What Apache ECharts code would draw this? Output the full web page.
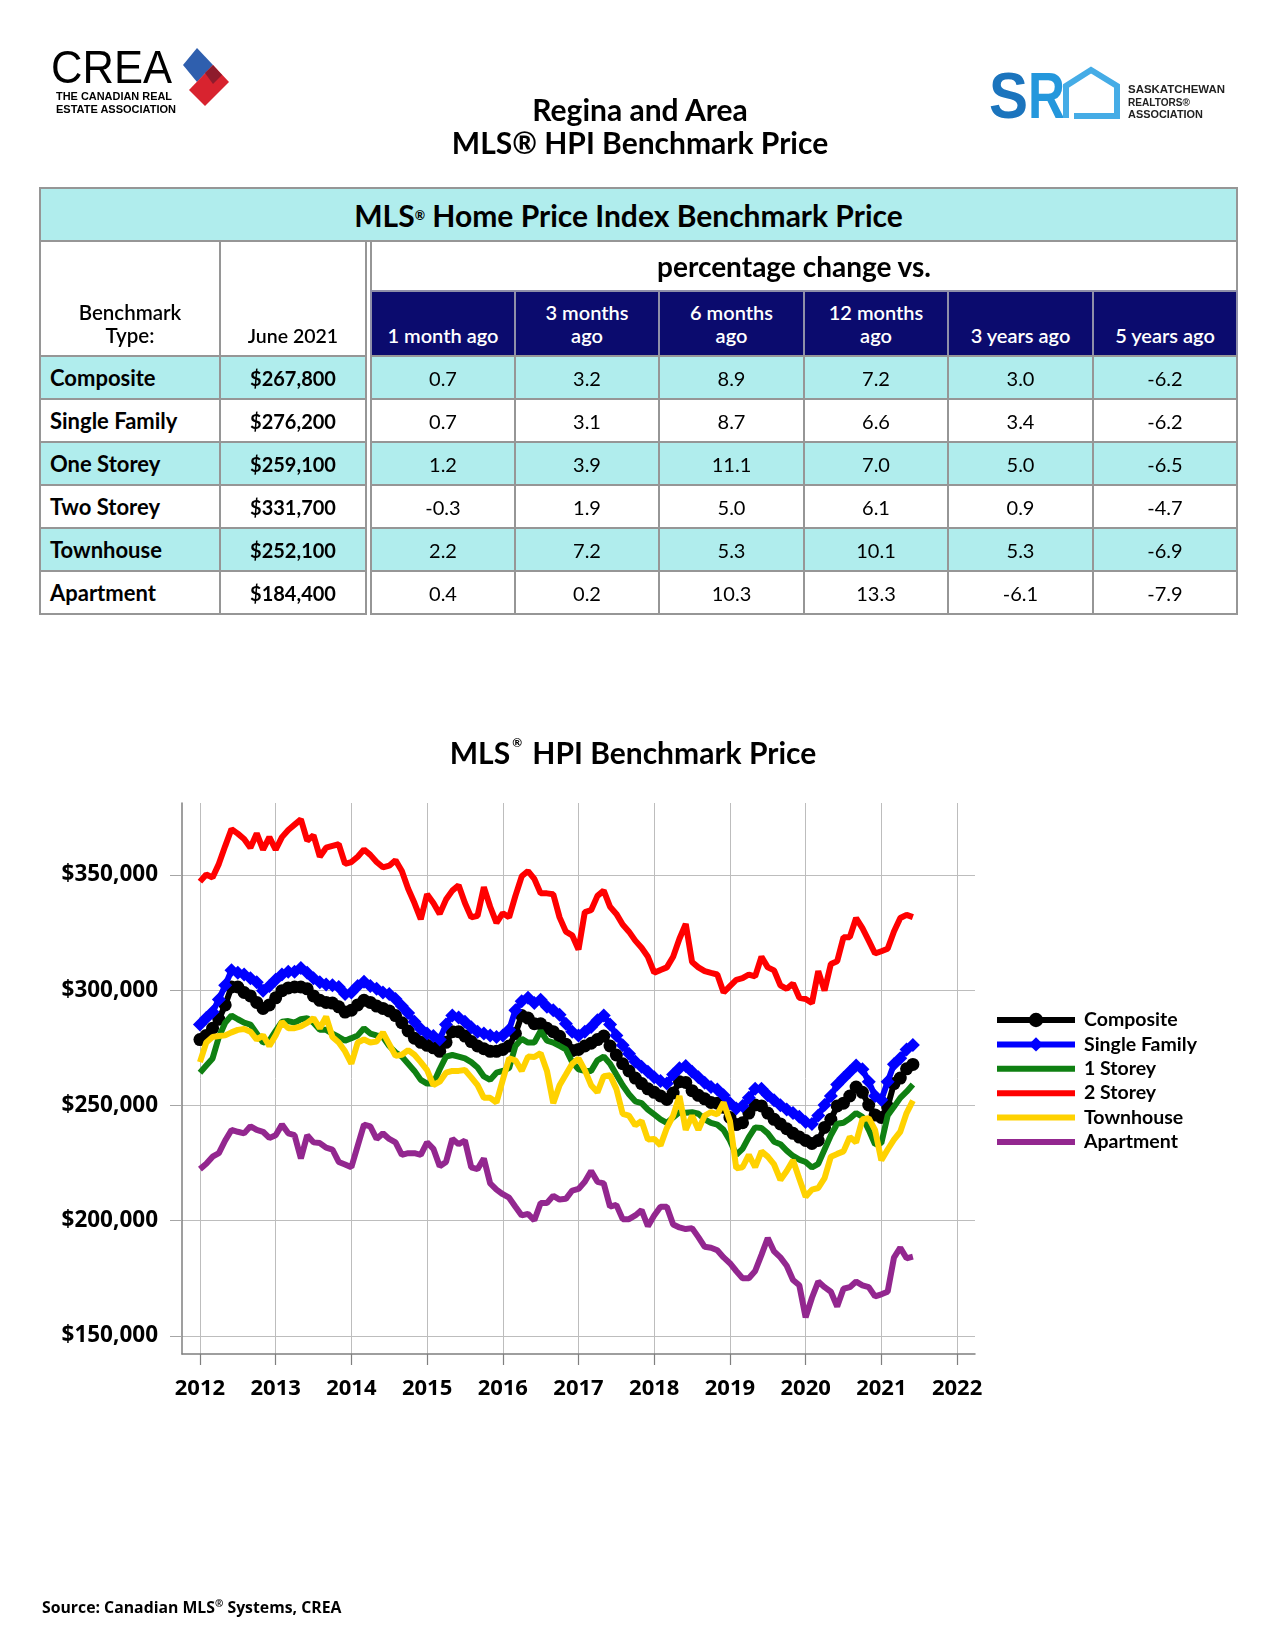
<!DOCTYPE html>
<html>
<head>
<meta charset="utf-8">
<title>Regina and Area MLS HPI Benchmark Price</title>
<script src="https://cdn.jsdelivr.net/npm/echarts@6.0.0/dist/echarts.min.js"></script>
<style>
html,body{margin:0;padding:0;background:#fff;}
body{position:relative;width:1275px;height:1650px;overflow:hidden;font-family:Lato,'Open Sans',sans-serif;color:#000;}
#chart{position:absolute;left:0;top:0;width:1275px;height:1650px;z-index:0;}
.layer{position:absolute;z-index:2;}
.title{position:absolute;z-index:2;left:340px;width:600px;text-align:center;font-weight:700;font-size:30px;line-height:34px;}
.cell{position:absolute;box-sizing:border-box;border:2px solid #969696;display:flex;align-items:center;justify-content:center;text-align:center;z-index:2;font-size:20px;}
sup.r{font-size:0.42em;vertical-align:top;position:relative;top:0.1em;}
</style>
</head>
<body>
<div id="chart"></div>

<svg class="layer" style="left:0;top:0" width="1275" height="140" xmlns="http://www.w3.org/2000/svg">
  <!-- CREA logo -->
  <text x="51" y="83" font-family="Liberation Sans, Arial, sans-serif" font-size="46" textLength="121" lengthAdjust="spacingAndGlyphs" fill="#000">CREA</text>
  <text x="56" y="100" font-family="Liberation Sans, Arial, sans-serif" font-size="10" font-weight="bold" textLength="116" lengthAdjust="spacingAndGlyphs" fill="#000">THE CANADIAN REAL</text>
  <text x="56" y="113" font-family="Liberation Sans, Arial, sans-serif" font-size="10" font-weight="bold" textLength="120" lengthAdjust="spacingAndGlyphs" fill="#000">ESTATE ASSOCIATION</text>
  <polygon points="197,48 213,65 197,82 183,65" fill="#2f5fae"/>
  <polygon points="213,65 229,82 205,106 189,90" fill="#d8232f"/>
  <polygon points="205,73 213,65 222,75 213,84" fill="#8e1b2c"/>
  <!-- SRA logo -->
  <text x="989" y="118" font-family="Liberation Sans, Arial, sans-serif" font-size="64" font-weight="bold" fill="#1b74bd" textLength="39" lengthAdjust="spacingAndGlyphs">S</text>
  <text x="1028" y="118" font-family="Liberation Sans, Arial, sans-serif" font-size="64" font-weight="bold" fill="#2497dc" textLength="37" lengthAdjust="spacingAndGlyphs">R</text>
  <polyline points="1066,118 1066,86 1091,70 1117,86 1117,116 1074,116" fill="none" stroke="#45ace6" stroke-width="6"/>
  <text x="1128" y="93" font-family="Liberation Sans, Arial, sans-serif" font-size="10.5" font-weight="bold" fill="#222" textLength="97" lengthAdjust="spacingAndGlyphs">SASKATCHEWAN</text>
  <text x="1128" y="106" font-family="Liberation Sans, Arial, sans-serif" font-size="10.5" font-weight="bold" fill="#222" textLength="62" lengthAdjust="spacingAndGlyphs">REALTORS®</text>
  <text x="1128" y="118" font-family="Liberation Sans, Arial, sans-serif" font-size="10.5" font-weight="bold" fill="#222" textLength="75" lengthAdjust="spacingAndGlyphs">ASSOCIATION</text>
</svg>

<div class="title" style="top:92px">Regina and Area</div>
<div class="title" style="top:125px">MLS® HPI Benchmark Price</div>

<div class="layer" style="left:42px;top:1592px;font-family:'Open Sans',sans-serif;font-weight:700;font-size:15.8px;line-height:22px;">Source: Canadian MLS<sup style="font-size:10px;">®</sup> Systems, CREA</div>

<script>
// ---------------- table data ----------------
const benchmarkTypes = ['Composite', 'Single Family', 'One Storey', 'Two Storey', 'Townhouse', 'Apartment'];
const june2021Prices = [267800, 276200, 259100, 331700, 252100, 184400];
const changeHeaders = ['1 month ago', '3 months<br>ago', '6 months<br>ago', '12 months<br>ago', '3 years ago', '5 years ago'];
const pct1Month = [0.7, 0.7, 1.2, -0.3, 2.2, 0.4];
const pct3Months = [3.2, 3.1, 3.9, 1.9, 7.2, 0.2];
const pct6Months = [8.9, 8.7, 11.1, 5.0, 5.3, 10.3];
const pct12Months = [7.2, 6.6, 7.0, 6.1, 10.1, 13.3];
const pct3Years = [3.0, 3.4, 5.0, 0.9, 5.3, -6.1];
const pct5Years = [-6.2, -6.2, -6.5, -4.7, -6.9, -7.9];

// ---------------- chart data (monthly, Jan 2012 - Jun 2021) ----------------
const startYear = 2012;
const yearTicks = [2012, 2013, 2014, 2015, 2016, 2017, 2018, 2019, 2020, 2021, 2022];
const priceTicks = [150000, 200000, 250000, 300000, 350000];
const seriesNames = ['Composite', 'Single Family', '1 Storey', '2 Storey', 'Townhouse', 'Apartment'];

const composite = [
  278600, 280400, 283500, 287400, 293600, 301400, 301400, 299000, 297500, 294700, 292100, 293600,
  296700, 299800, 301000, 301400, 301400, 300600, 297500, 295600, 294700, 294400, 292800, 290500,
  291300, 293600, 295600, 294700, 293100, 292100, 291000, 289000, 285900, 282300, 279200, 277400,
  276100, 275000, 273500, 277400, 282000, 282000, 280100, 277700, 275800, 274600, 273500, 273500,
  274300, 275800, 281200, 289000, 287900, 285500, 285400, 283500, 282000, 280000, 276600, 273800,
  274300, 275800, 277000, 278600, 280100, 275800, 271900, 268100, 265000, 261900, 259500, 257200,
  255700, 254100, 252600, 255400, 260300, 260000, 256400, 254400, 252900, 251300, 251000, 249200,
  244800, 241700, 242500, 246700, 250200, 249800, 246700, 244000, 242000, 239900, 237900, 236300,
  234800, 233500, 234800, 240500, 244000, 249800, 251000, 254100, 258000, 255700, 250200, 245900,
  244800, 249500, 259500, 261900, 265900, 267800
];
const singleFamily = [
  285100, 287900, 290500, 296000, 302100, 308600, 307600, 306800, 305200, 303400, 299800, 301800,
  304500, 306800, 308000, 308000, 309600, 307600, 305200, 303400, 302500, 302100, 301400, 298300,
  299000, 301800, 303700, 301800, 300600, 299000, 298300, 296200, 293100, 290100, 286300, 283200,
  281200, 280100, 278600, 285100, 289000, 288200, 286300, 283900, 282000, 281200, 280400, 279700,
  280400, 282800, 291300, 295200, 296700, 294500, 295900, 292800, 291300, 289300, 285400, 282000,
  280400, 282000, 284000, 287000, 289000, 285100, 280400, 276100, 272400, 269100, 266800, 264600,
  262200, 260600, 259500, 263400, 266200, 267100, 264600, 262200, 259900, 258000, 256900, 254400,
  251000, 248700, 249800, 253300, 257200, 257200, 254400, 252300, 250100, 248200, 246700, 245100,
  242800, 242000, 245600, 250200, 254100, 259100, 261900, 264600, 267300, 265700, 260300, 254100,
  252500, 260300, 267900, 270500, 274300, 276200
];
const oneStorey = [
  264200, 267300, 270400, 279700, 285900, 289000, 287400, 285900, 285100, 281200, 277300, 278100,
  282300, 286300, 286600, 285900, 287400, 287900, 285900, 282800, 282800, 281200, 279700, 278100,
  279200, 280400, 283500, 281200, 280400, 279700, 275800, 273000, 271200, 268100, 265000, 261100,
  259500, 259500, 265700, 271200, 271900, 271200, 270400, 268800, 266500, 262600, 261100, 264200,
  265000, 266200, 275800, 278900, 277300, 277300, 282300, 278100, 277300, 275800, 274300, 268800,
  265700, 265000, 265000, 269600, 271200, 268100, 263400, 258800, 254900, 251800, 251000, 248200,
  246100, 244000, 242500, 244800, 247100, 246800, 247100, 246400, 244000, 242500, 241700, 239400,
  234800, 228600, 231200, 236300, 240500, 240200, 237900, 234300, 233200, 230400, 228100, 226500,
  225500, 223100, 224700, 230900, 237100, 242100, 242500, 244300, 246700, 245100, 239400, 233200,
  233700, 245600, 249400, 253300, 256000, 259100
];
const twoStorey = [
  347100, 350200, 348900, 354800, 362500, 369900, 367900, 365600, 361800, 368000, 361000, 366400,
  361000, 366400, 369500, 371800, 374100, 364900, 367200, 357900, 361800, 362600, 363300, 354800,
  355600, 357900, 361000, 358700, 355600, 353300, 354000, 356400, 351700, 344000, 337800, 330800,
  341600, 337800, 333100, 339300, 343200, 345500, 337800, 331600, 332300, 344700, 336200, 329200,
  333400, 331600, 340900, 349400, 351700, 348300, 342000, 342000, 341600, 331600, 325400, 323800,
  317600, 333900, 334700, 340900, 343200, 336200, 333100, 328500, 325400, 321500, 318400, 314500,
  307600, 308800, 309900, 314500, 322300, 328700, 312200, 309900, 308300, 307500, 306800, 299000,
  301800, 304500, 305200, 306800, 306000, 314500, 309900, 308600, 302100, 300600, 302900, 296700,
  296200, 294400, 308300, 299800, 311400, 312600, 323000, 323000, 331300, 326900, 321500, 315900,
  316900, 318000, 325500, 331300, 332700, 331700
];
const townhouse = [
  268800, 277300, 279700, 280100, 280400, 281700, 282800, 283200, 282000, 278600, 280400, 275800,
  280400, 286300, 283500, 283500, 284300, 285800, 287900, 283500, 288500, 279700, 277300, 273500,
  268100, 277300, 278600, 277300, 277700, 281700, 276600, 271500, 272000, 274000, 272000, 268800,
  265300, 258800, 260300, 264200, 265000, 265000, 265400, 262200, 258800, 253300, 253300, 251300,
  261100, 270400, 269600, 265000, 271200, 271000, 272700, 265000, 251000, 258800, 263400, 268100,
  270400, 265300, 258800, 255700, 262700, 263100, 257200, 246400, 245600, 241400, 243300, 235200,
  235500, 232700, 240200, 245600, 254100, 239400, 245600, 239400, 245600, 247100, 246100, 251300,
  243300, 222800, 223200, 228600, 223200, 230100, 227800, 224400, 217700, 221600, 226200, 218200,
  210400, 213500, 214200, 218500, 227800, 229000, 230100, 236300, 234000, 244000, 244500, 239400,
  226200, 230900, 235200, 238600, 246700, 252100
];
const apartment = [
  222400, 224700, 227800, 229300, 234800, 239400, 238600, 237900, 241000, 239400, 238600, 235900,
  237100, 241700, 237900, 237100, 227000, 237100, 234000, 233700, 231700, 230900, 225500, 224400,
  223200, 232500, 241700, 240900, 235500, 237900, 235500, 234000, 228600, 229300, 229300, 228600,
  234000, 231200, 223600, 225500, 235500, 233200, 234800, 223200, 222400, 227000, 216200, 213500,
  211500, 210000, 206100, 202300, 203000, 200200, 207700, 207700, 210800, 209200, 209500, 213100,
  213800, 216900, 221600, 216900, 216200, 206100, 206900, 200700, 200700, 202300, 204600, 197600,
  202300, 206100, 206100, 198400, 197100, 196400, 196800, 192900, 188700, 188300, 187200, 184100,
  181600, 178200, 175100, 175100, 178200, 185200, 192500, 186700, 184100, 180500, 174300, 172000,
  158100, 166600, 173600, 171200, 169200, 162800, 170500, 171200, 173600, 172000, 171200, 167200,
  168100, 169200, 184000, 188300, 183700, 184400
];

// ---------------- build table ----------------
const colX = [[40, 220], [220, 366], [371, 515], [515, 659], [659, 804], [804, 948], [948, 1093], [1093, 1237]];
const rowY = [356, 399, 442, 485, 528, 571, 614];
const CYAN = '#b0eded', NAVY = '#0b0b6e';
function cell(x0, y0, x1, y1, html, style) {
  const d = document.createElement('div');
  d.className = 'cell';
  d.style.left = (x0 - 1) + 'px';
  d.style.top = (y0 - 1) + 'px';
  d.style.width = (x1 - x0 + 2) + 'px';
  d.style.height = (y1 - y0 + 2) + 'px';
  Object.assign(d.style, style || {});
  d.innerHTML = html;
  document.body.appendChild(d);
  return d;
}
cell(40, 188, 1237, 241, 'MLS<sup class="r">®</sup>&nbsp;Home Price Index Benchmark Price',
  {background: CYAN, fontWeight: '700', fontSize: '30px', paddingRight: '20px'});
cell(40, 241, 220, 356, 'Benchmark<br>Type:',
  {alignItems: 'flex-end', paddingBottom: '8px', fontSize: '20.5px', lineHeight: '23px', fontWeight: '600'});
cell(220, 241, 366, 356, 'June 2021',
  {alignItems: 'flex-end', paddingBottom: '8px', fontSize: '19.5px', lineHeight: '23px', fontWeight: '600'});
cell(371, 241, 1237, 291, 'percentage change vs.', {fontWeight: '700', fontSize: '28px', paddingRight: '20px'});
changeHeaders.forEach((h, i) => {
  const c = colX[i + 2];
  cell(c[0], 291, c[1], 356, h, {background: NAVY, color: '#fff', alignItems: 'flex-end',
    paddingBottom: '8px', fontSize: '20px', lineHeight: '23px', fontWeight: '600', borderColor: '#8f8fa8'});
});
const pctCols = [pct1Month, pct3Months, pct6Months, pct12Months, pct3Years, pct5Years];
benchmarkTypes.forEach((name, r) => {
  const bg = (r % 2 === 0) ? CYAN : '#fff';
  const y0 = rowY[r], y1 = rowY[r + 1];
  cell(colX[0][0], y0, colX[0][1], y1, name, {background: bg, fontWeight: '700', fontSize: '22px', justifyContent: 'flex-start', paddingLeft: '9px'});
  cell(colX[1][0], y0, colX[1][1], y1, '$' + june2021Prices[r].toLocaleString('en-US'), {background: bg, fontWeight: '700'});
  pctCols.forEach((col, k) => {
    const c = colX[k + 2];
    cell(c[0], y0, c[1], y1, col[r].toFixed(1), {background: bg});
  });
});

// ---------------- chart ----------------
function toPoints(values) { return values.map((v, i) => [startYear + i / 12, v]); }
const colors = ['#000000', '#0000ff', '#0f8012', '#ff0000', '#ffd200', '#93278f'];
const seriesValues = [composite, singleFamily, oneStorey, twoStorey, townhouse, apartment];
const symbols = ['circle', 'diamond', 'none', 'none', 'none', 'none'];
const symbolSizes = [13, 14, 0, 0, 0, 0];

const chart = echarts.init(document.getElementById('chart'), null, {renderer: 'canvas'});
const option = {
  animation: false,
  backgroundColor: 'transparent',
  title: {
    text: '{t|MLS}{r|®}{t| HPI Benchmark Price}',
    left: 628, top: 732, textAlign: 'center',
    textStyle: {
      rich: {
        t: {fontFamily: 'Lato', fontWeight: 'bold', fontSize: 30, color: '#000', lineHeight: 34},
        r: {fontFamily: 'Lato', fontWeight: 'bold', fontSize: 12, color: '#000', verticalAlign: 'top', lineHeight: 34, padding: [0, 3, 13, 2]}
      }
    }
  },
  grid: {left: 182, right: 300, top: 803, bottom: 296, containLabel: false},
  legend: {
    orient: 'vertical', left: 989, top: 1005, itemWidth: 78, itemHeight: 18, itemGap: 4.4,
    lineStyle: {width: 6},
    data: seriesNames.map((n, i) => symbols[i] === 'none'
      ? {name: n, icon: 'path://M0,0H78V6H0Z'}
      : {name: n}),
    textStyle: {fontFamily: 'Lato', fontWeight: 'bold', fontSize: 19.5, color: '#000', padding: [0, 0, 0, 4]}
  },
  xAxis: {
    type: 'value', min: 2011.763, max: 2022.237,
    axisLine: {show: true, lineStyle: {color: '#7f7f7f', width: 1.5}},
    axisTick: {show: true, inside: false, length: 11, customValues: yearTicks, lineStyle: {color: '#7f7f7f', width: 1.2}},
    axisLabel: {customValues: yearTicks, formatter: v => String(Math.round(v)), margin: 24,
      fontFamily: 'Open Sans', fontWeight: 'bold', fontSize: 22, color: '#000'},
    splitLine: {show: true, lineStyle: {color: '#bdbdbd', width: 1}}
  },
  yAxis: {
    type: 'value', min: 142200, max: 381200,
    axisLine: {show: true, lineStyle: {color: '#7f7f7f', width: 1.5}},
    axisTick: {show: true, inside: false, length: 12, customValues: priceTicks, lineStyle: {color: '#a6a6a6', width: 1}},
    axisLabel: {customValues: priceTicks, formatter: v => '$' + Math.round(v).toLocaleString('en-US'), margin: 24,
      fontFamily: 'Open Sans', fontWeight: 'bold', fontSize: 22.5, color: '#000'},
    splitLine: {show: true, lineStyle: {color: '#bdbdbd', width: 1}}
  },
  series: seriesNames.map((n, i) => ({
    name: n, type: 'line', data: toPoints(seriesValues[i]),
    symbol: symbols[i], symbolSize: symbolSizes[i], showSymbol: symbols[i] !== 'none',
    lineStyle: {width: 6, color: colors[i]},
    itemStyle: {color: colors[i]},
    color: colors[i],
    silent: true, emphasis: {disabled: true}, z: 2 + i
  }))
};
chart.setOption(option);
</script>
</body>
</html>
